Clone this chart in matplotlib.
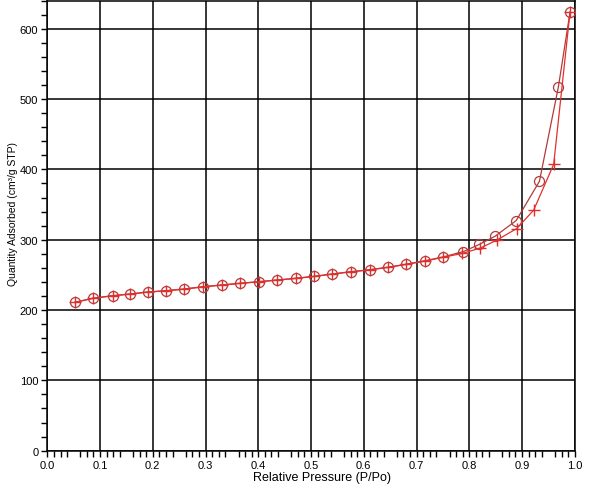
import numpy as np
import matplotlib.pyplot as plt
from matplotlib.ticker import MultipleLocator, FixedLocator

# isotherm data
ads_p = [0.0525, 0.086, 0.124, 0.157, 0.190, 0.225, 0.260, 0.296, 0.331, 0.365,
         0.401, 0.436, 0.471, 0.506, 0.540, 0.576, 0.611, 0.645, 0.680, 0.716,
         0.751, 0.786, 0.820, 0.852, 0.890, 0.922, 0.960, 0.991]
ads_q = [210.8, 216.5, 220.2, 222.6, 225.4, 227.3, 229.7, 233.0, 235.4, 237.8,
         240.1, 242.5, 244.9, 247.7, 251.0, 254.3, 257.1, 260.5, 264.8, 269.5,
         275.1, 280.4, 287.9, 299.3, 315.9, 342.0, 407.2, 623.6]

des_p = [0.991, 0.969, 0.933, 0.889, 0.849, 0.819, 0.789, 0.751, 0.716, 0.680,
         0.645, 0.611, 0.576, 0.540, 0.506, 0.471, 0.436, 0.401, 0.365, 0.331,
         0.296, 0.260, 0.225, 0.190, 0.157, 0.124, 0.086, 0.0525]
des_q = [623.6, 517.6, 383.1, 327.3, 305.0, 293.3, 283.2, 275.6, 270.2, 265.2,
         260.8, 257.4, 254.6, 251.3, 248.0, 245.2, 242.8, 240.4, 238.1, 235.7,
         233.3, 230.0, 227.6, 225.7, 222.9, 220.5, 216.8, 211.1]

plt.rcParams['font.family'] = ['Liberation Sans', 'DejaVu Sans']

fig = plt.figure(figsize=(5.9, 4.89), dpi=100)
ax = fig.add_axes([0.0802, 0.0763, 0.894, 0.9204])

ax.plot(des_p, des_q, color='#b23a3a', lw=0.9, marker='o', ms=7.2,
        mfc='none', mec='#b23a3a', mew=0.9, zorder=3)
ax.plot(ads_p, ads_q, color='#e0302c', lw=0.9, marker='+', ms=8,
        mec='#e0302c', mew=1.0, zorder=4)

ax.set_xlim(0, 1.0)
ax.set_ylim(0, 640)

ax.xaxis.set_major_locator(MultipleLocator(0.1))
minor_x = [i * 0.0125 for i in range(81) if i % 8 not in (0, 4)]
ax.xaxis.set_minor_locator(FixedLocator(minor_x))
ax.yaxis.set_major_locator(MultipleLocator(100))
ax.yaxis.set_minor_locator(MultipleLocator(20))
ax.xaxis.set_major_formatter(plt.FuncFormatter(lambda v, p: f'{v:.1f}'))

ax.grid(which='major', color='black', lw=1.1)
ax.set_axisbelow(True)
for s in ax.spines.values():
    s.set_linewidth(1.1)
    s.set_color('black')

ax.tick_params(which='major', direction='out', length=4.5, width=1.0,
               labelsize=8, pad=2)
ax.tick_params(which='minor', direction='out', length=4, width=1.0)

ax.set_xlabel('Relative Pressure (P/Po)', fontsize=9)
ax.set_ylabel('Quantity Adsorbed (cm³/g STP)', fontsize=7.5)
ax.xaxis.set_label_coords(0.521, -0.046)
ax.yaxis.set_label_coords(-0.056, 0.528)

fig.savefig('out.png', dpi=100)
